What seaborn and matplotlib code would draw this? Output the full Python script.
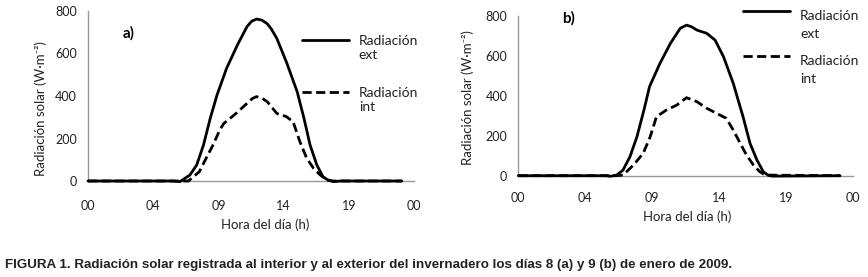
import matplotlib
matplotlib.use("Agg")
import matplotlib.pyplot as plt
from matplotlib.legend_handler import HandlerLine2D
import numpy as np
import seaborn as sns
import pandas as pd

# ---- data ----
tick_pos = [0, 4.8, 9.6, 14.4, 19.2, 24]
tick_labels = ["00", "04", "09", "14", "19", "00"]
y_ticks = [0, 200, 400, 600, 800]

# day 8 (a)
hora_ext_a = [0, 6.2, 6.77, 7.5, 8.0, 8.5, 9.0, 9.5, 10.2, 11.0, 11.7, 12.05, 12.4, 12.8, 13.2,
              13.5, 13.9, 14.6, 15.4, 15.9, 16.35, 16.85, 17.3, 17.7, 18.1, 18.6, 23.1]
rad_ext_a = [0, 0, -3, 28, 75, 169, 295, 405, 530, 640, 726, 752, 762, 757, 740,
             715, 671, 561, 420, 295, 169, 75, 20, 3, -3, 0, 0]
hora_int_a = [0, 6.8, 7.4, 8.2, 8.6, 9.2, 9.7, 10.0, 10.9, 11.7, 12.1, 12.4, 12.8, 13.2, 13.9,
              14.6, 15.1, 15.6, 16.1, 16.6, 17.1, 17.6, 18.0, 23.1]
rad_int_a = [0, 0, 0, 44, 95, 169, 240, 271, 318, 365, 388, 397, 390, 373, 318,
             303, 279, 185, 107, 60, 28, 5, 0, 0]

# day 9 (b)
hora_ext_b = [0, 6.3, 6.6, 7.05, 7.5, 8.0, 8.5, 9.0, 9.4, 10.15, 10.9, 11.6, 12.05, 12.4, 12.8,
              13.5, 14.1, 14.7, 15.4, 16.1, 16.6, 17.1, 17.55, 17.9, 18.2, 23.05]
rad_ext_b = [0, 0, -3, 3, 28, 95, 195, 328, 445, 562, 662, 737, 753, 745, 728,
             712, 678, 595, 462, 295, 162, 78, 20, 2, -2, 0]
hora_int_b = [0, 7.0, 7.5, 8.25, 8.95, 9.45, 9.9, 10.6, 11.35, 12.05, 12.8, 13.5, 14.2,
              14.9, 15.4, 15.9, 16.35, 16.85, 17.3, 17.7, 23.05]
rad_int_b = [0, 0, 3, 53, 112, 195, 295, 328, 353, 390, 370, 337, 312,
             287, 228, 162, 103, 53, 20, 3, 0]

lbl_ext = "Radiación\next"
lbl_int = "Radiación\nint"
ylabel = "Radiación solar (W·m⁻²)"
xlabel = "Hora del día (h)"
caption = ("FIGURA 1. Radiación solar registrada al interior y al exterior del invernadero "
           "los días 8 (a) y 9 (b) de enero de 2009.")

sns.set_theme(style="white")
plt.rcParams["font.family"] = ["Lato", "DejaVu Sans"]
plt.rcParams["font.size"] = 9


class ShiftHandler(HandlerLine2D):
    """Line handle raised so it sits level with the first line of a two-line label."""
    def __init__(self, dy, **kw):
        super().__init__(**kw)
        self.dy = dy

    def create_artists(self, legend, orig_handle, xdescent, ydescent, width, height,
                       fontsize, trans):
        arts = super().create_artists(legend, orig_handle, xdescent, ydescent, width,
                                      height, fontsize, trans)
        for a in arts:
            a.set_ydata(np.asarray(a.get_ydata(), dtype=float) + self.dy)
        return arts


fig = plt.figure(figsize=(8.68, 2.77), dpi=100)
W, H = 868, 277


def add_ax(l, r, t, b):
    return fig.add_axes([l / W, 1 - b / H, (r - l) / W, (b - t) / H])


ax_a = add_ax(88, 414, 11, 181)
ax_b = add_ax(518.3, 853.3, 15.7, 175.7)

# ax, data..., tag, tag pos, ylabel pos, xlabel pos, legend anchor, line spacing,
# label spacing, handle shift, x tick pad
panels = [
    (ax_a, hora_ext_a, rad_ext_a, hora_int_a, rad_int_a, "a)", (0.107, 0.87),
     (-0.127, 0.424), (0.543, -0.223), (0.656, 0.856), 1.2, 1.83, 6.0, 13.5),
    (ax_b, hora_ext_b, rad_ext_b, hora_int_b, rad_int_b, "b)", (0.13, 0.984),
     (-0.133, 0.489), (0.503, -0.215), (0.671, 1.035), 1.55, 1.12, 10.4, 12.0),
]

for (ax, hx, rx, hi, ri, tag, tagpos, ylp, xlp, legpos, lsp, labsp, dy, xpad) in panels:
    df_ext = pd.DataFrame({"hora": hx, "rad": rx})
    df_int = pd.DataFrame({"hora": hi, "rad": ri})
    sns.lineplot(data=df_int, x="hora", y="rad", ax=ax, color="black", lw=2.0,
                 linestyle=(0, (3.3, 1.6)), label=lbl_int, clip_on=False, zorder=3)
    sns.lineplot(data=df_ext, x="hora", y="rad", ax=ax, color="black", lw=2.0,
                 label=lbl_ext, clip_on=False, zorder=4)
    ax.set_xlim(0, 24)
    ax.set_ylim(0, 800)
    ax.set_xticks(tick_pos)
    ax.set_xticklabels(tick_labels)
    ax.set_yticks(y_ticks)
    for s in ["top", "right"]:
        ax.spines[s].set_visible(False)
    for s in ["left", "bottom"]:
        ax.spines[s].set_color("#999999")
        ax.spines[s].set_linewidth(1.0)
    ax.tick_params(direction="in", length=3, width=1, color="#999999",
                   labelsize=9, labelcolor="#222222")
    ax.tick_params(axis="x", pad=xpad)
    ax.tick_params(axis="y", pad=8)
    ax.set_xlabel(xlabel, fontsize=9.5, color="#222222")
    ax.set_ylabel(ylabel, fontsize=9.5, color="#222222")
    ax.yaxis.set_label_coords(*ylp)
    ax.xaxis.set_label_coords(*xlp)
    ax.text(*tagpos, tag, transform=ax.transAxes, fontsize=11, fontweight="bold",
            ha="left", va="center", color="black")
    h, l = ax.get_legend_handles_labels()
    order = [1, 0]
    leg = ax.legend([h[i] for i in order], [l[i] for i in order], loc="upper left",
                    bbox_to_anchor=legpos, frameon=False, fontsize=10, handlelength=3.4,
                    handletextpad=0.7, labelspacing=labsp, borderaxespad=0, borderpad=0,
                    handler_map={type(h[0]): ShiftHandler(dy)})
    for t in leg.get_texts():
        t.set_linespacing(lsp)
        t.set_color("#222222")

fig.text(5 / W, 1 - 265 / H, caption, fontsize=9.6, fontweight="bold",
         family=["Liberation Sans", "DejaVu Sans"], color="#222222", ha="left", va="center")

fig.savefig("out.png", dpi=100, facecolor="white")
